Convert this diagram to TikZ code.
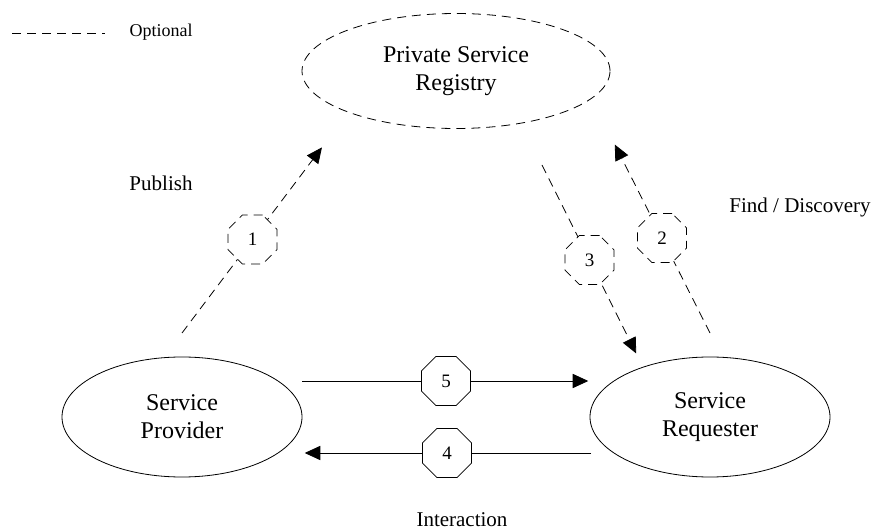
\documentclass[tikz,border=0pt]{standalone}
\usepackage{fontspec}
\setmainfont{Liberation Serif}
\usetikzlibrary{shapes.geometric,arrows.meta}

\begin{document}
\begin{tikzpicture}[x=0.5pt,y=-0.5pt]
\tikzset{ >={Triangle[length=9pt,width=8pt]}, line width=1.1pt,
  optline/.style={dash pattern=on 4.5pt off 3pt},
  party/.style={draw, ellipse, align=center, inner sep=0pt,
    minimum width=120pt, minimum height=60pt,
    font=\fontsize{12}{14}\selectfont},
  oct/.style={draw, fill=white, regular polygon, regular polygon sides=8,
    minimum size=26.5pt, inner sep=0pt, font=\fontsize{9.5}{11}\selectfont},
  lbl/.style={font=\fontsize{10.5}{12}\selectfont},
}

\useasboundingbox (0,0) rectangle (874,529);

% legend
\coordinate (leg1) at (12,33);
\coordinate (leg2) at (105,33);
\draw [optline] (leg1) -- (leg2);
\node [font=\fontsize{9}{11}\selectfont] (legtxt) at (161,32) {Optional};

% the three parties
\node [party, optline, minimum width=154pt, minimum height=57.5pt] (PSR) at (456,71) {Private Service\\Registry};
\node [party] (SP) at (182,417) {Service\\Provider};
\node [party] (SR) at (710,417) {Service\\Requester};

% end points of the message arrows
\coordinate (p1a) at (182,333);
\coordinate (p1b) at (323,146);
\coordinate (p2a) at (710,333);
\coordinate (p2b) at (614,143);
\coordinate (p3a) at (542,165);
\coordinate (p3b) at (637,355);
\coordinate (p5a) at (302,381);
\coordinate (p5b) at (590,381);
\coordinate (p4a) at (591,453);
\coordinate (p4b) at (303,453);

\draw [optline, ->] (p1a) -- node [oct] (n1) {1} (p1b);
\draw [optline, ->] (p2a) -- node [oct] (n2) {2} (p2b);
\draw [optline, ->] (p3a) -- node [oct] (n3) {3} (p3b);
\draw [->] (p5a) -- node [oct] (n5) {5} (p5b);
\draw [->] (p4a) -- node [oct] (n4) {4} (p4b);

\node [lbl] (pub)   at (161,183) {Publish};
\node [lbl] (find)  at (800,207) {Find / Discovery};
\node [lbl] (inter) at (462,520) {Interaction};

\end{tikzpicture}
\end{document}
